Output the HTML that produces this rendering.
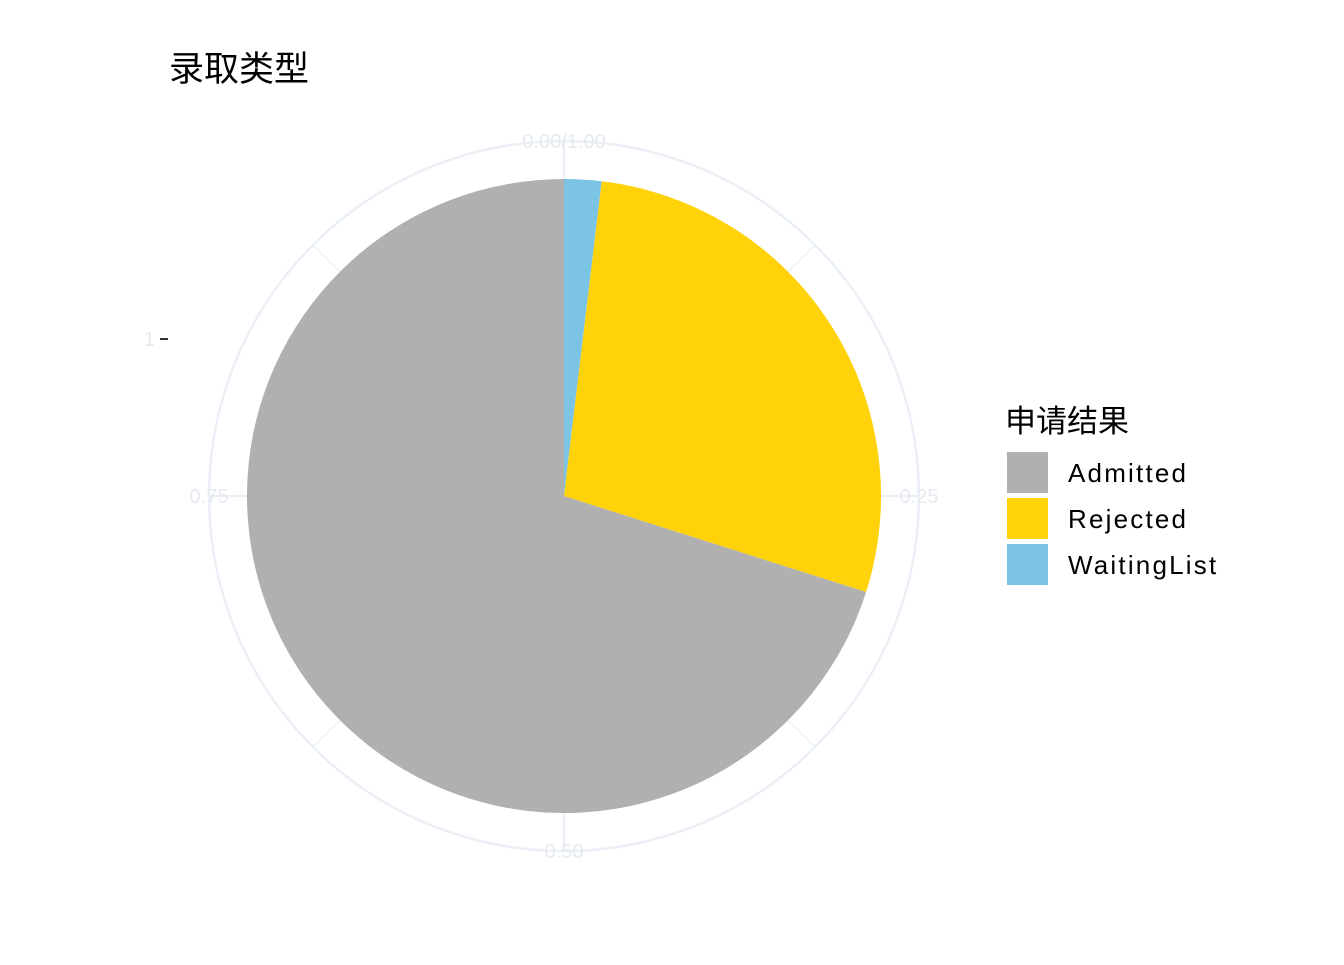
<!DOCTYPE html>
<html><head><meta charset="utf-8"><style>
body{margin:0;background:#fff;}
svg text{font-family:"Liberation Sans","Noto Sans CJK SC",sans-serif;}
</style></head><body>
<svg width="1344" height="960" viewBox="0 0 1344 960">
<rect width="1344" height="960" fill="#fff"/>
<text x="169" y="81" font-size="35" fill="#000">录取类型</text>
<g id="grid"></g>
<g id="slices"></g>
<g id="ticks"></g>
<text x="155" y="346" font-size="20" fill="#e6e9ef" text-anchor="end">1</text>
<line x1="160" y1="339" x2="168" y2="339" stroke="#333" stroke-width="2"/>
<g id="legend">
<text x="1005" y="432" font-size="31" fill="#000">申请结果</text>
</g>
</svg>
<script>
const categories=["WaitingList","Rejected","Admitted"];
const values=[0.019,0.28,0.701];
const colors=["#7BC4E6","#FFD20A","#B0B0B0"];
const legendOrder=["Admitted","Rejected","WaitingList"];
const tickLabels=["0.00/1.00","0.25","0.50","0.75"];
const tickValues=[0,0.25,0.5,0.75];
const NS="http://www.w3.org/2000/svg";
const cx=564,cy=496,R=317,RG=355;
function pt(f,r){const a=f*2*Math.PI;return [cx+r*Math.sin(a),cy-r*Math.cos(a)];}
const grid=document.getElementById('grid');
const c=document.createElementNS(NS,'circle');
c.setAttribute('cx',cx);c.setAttribute('cy',cy);c.setAttribute('r',RG);
c.setAttribute('fill','none');c.setAttribute('stroke','#EBF0F7');c.setAttribute('stroke-width','2.5');


grid.appendChild(c);
for(let i=0;i<8;i++){const p=pt(i/8,RG);const l=document.createElementNS(NS,'line');
l.setAttribute('x1',cx);l.setAttribute('y1',cy);l.setAttribute('x2',p[0]);l.setAttribute('y2',p[1]);
l.setAttribute('stroke','#EBF0F7');l.setAttribute('stroke-width',i%2?1.5:2.5);


grid.appendChild(l);}
const sl=document.getElementById('slices');let cum=0;
const total=values.reduce((a,b)=>a+b,0);
values.forEach((v,i)=>{const f0=cum/total,f1=(cum+v)/total;cum+=v;
const a=pt(f0,R),b=pt(f1,R);const large=(f1-f0)>0.5?1:0;
const p=document.createElementNS(NS,'path');
p.setAttribute('d',`M${cx},${cy}L${a[0]},${a[1]}A${R},${R} 0 ${large} 1 ${b[0]},${b[1]}Z`);
p.setAttribute('fill',colors[i]);


sl.appendChild(p);});
const tk=document.getElementById('ticks');
tickValues.forEach((v,i)=>{const p=pt(v,RG);const t=document.createElementNS(NS,'text');
t.setAttribute('x',p[0]);t.setAttribute('y',p[1]+7);t.setAttribute('text-anchor','middle');
t.setAttribute('font-size','20');t.setAttribute('fill','#e6e9ef');t.textContent=tickLabels[i];


tk.appendChild(t);});
const lg=document.getElementById('legend');
legendOrder.forEach((n,i)=>{const y=451+i*46;
const r=document.createElementNS(NS,'rect');
r.setAttribute('x',1006);r.setAttribute('y',y);r.setAttribute('width',43);r.setAttribute('height',43);
r.setAttribute('fill',colors[categories.indexOf(n)]);r.setAttribute('stroke','#fff');r.setAttribute('stroke-width','2');


lg.appendChild(r);
const t=document.createElementNS(NS,'text');
t.setAttribute('x',1068);t.setAttribute('y',y+31);t.setAttribute('font-size','26');t.setAttribute('letter-spacing','2.2');
t.textContent=n;


lg.appendChild(t);});
</script>
</body></html>
